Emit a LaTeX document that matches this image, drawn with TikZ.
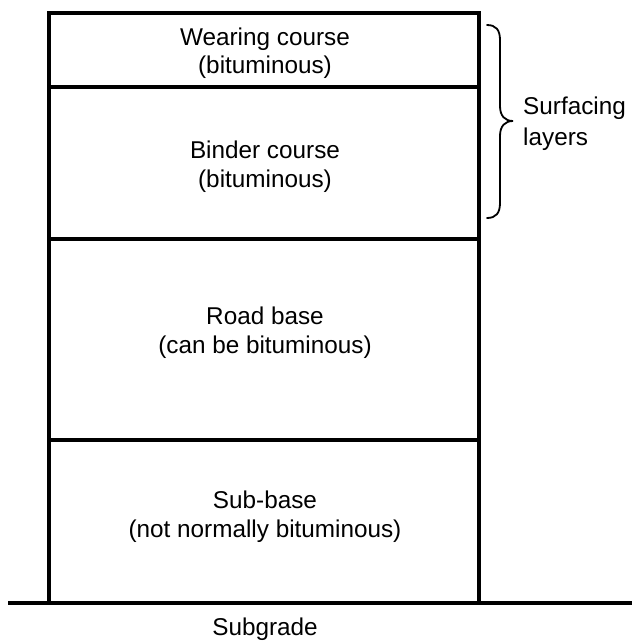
\documentclass[tikz,border=0pt]{standalone}
\usepackage{fontspec}
\setmainfont{Liberation Sans}
\begin{document}
\begin{tikzpicture}[x=1pt,y=-1pt,
  layerline/.style={line width=3.2pt},
  groundline/.style={line width=3.4pt},
  bracestyle/.style={line width=1.8pt, line cap=round},
  lbl/.style={anchor=base, inner sep=0pt, font=\fontsize{24.3}{29}\selectfont},
  sidelbl/.style={anchor=base west, inner sep=0pt, font=\fontsize{24.3}{29}\selectfont}]
\useasboundingbox (0,0) rectangle (632,641);
% box
\coordinate (tl) at (49,13);
\coordinate (tr) at (479,13);
\coordinate (bl) at (49,603);
\coordinate (br) at (479,603);
\coordinate (g1) at (8,603);
\coordinate (g2) at (632,603);
\coordinate (l1a) at (49,87);  \coordinate (l1b) at (479,87);
\coordinate (l2a) at (49,239); \coordinate (l2b) at (479,239);
\coordinate (l3a) at (49,440); \coordinate (l3b) at (479,440);
\draw[layerline] (bl) -- (tl) -- (tr) -- (br);
\draw[layerline] (l1a) -- (l1b);
\draw[layerline] (l2a) -- (l2b);
\draw[layerline] (l3a) -- (l3b);
\draw[groundline] (g1) -- (g2);
% brace
\coordinate (bt) at (487,25);
\coordinate (bb) at (487,218);
\coordinate (tip) at (513,121);
\draw[bracestyle] (bt) .. controls (496,25) and (500,30) .. (500,40)
  -- (500,106) .. controls (500,116) and (505,121) .. (tip)
  .. controls (505,121) and (500,126) .. (500,136)
  -- (500,203) .. controls (500,213) and (496,218) .. (bb);
% labels
\node[lbl] (w1) at (265,45) {Wearing course};
\node[lbl] (w2) at (265,73) {(bituminous)};
\node[lbl] (b1) at (265,158) {Binder course};
\node[lbl] (b2) at (265,187) {(bituminous)};
\node[lbl] (r1) at (265,324) {Road base};
\node[lbl] (r2) at (265,353) {(can be bituminous)};
\node[lbl] (s1) at (265,508) {Sub-base};
\node[lbl] (s2) at (265,537) {(not normally bituminous)};
\node[lbl] (sg) at (265,635) {Subgrade};
\node[sidelbl] (sf1) at (523,114) {Surfacing};
\node[sidelbl] (sf2) at (523,145) {layers};
\end{tikzpicture}
\end{document}
